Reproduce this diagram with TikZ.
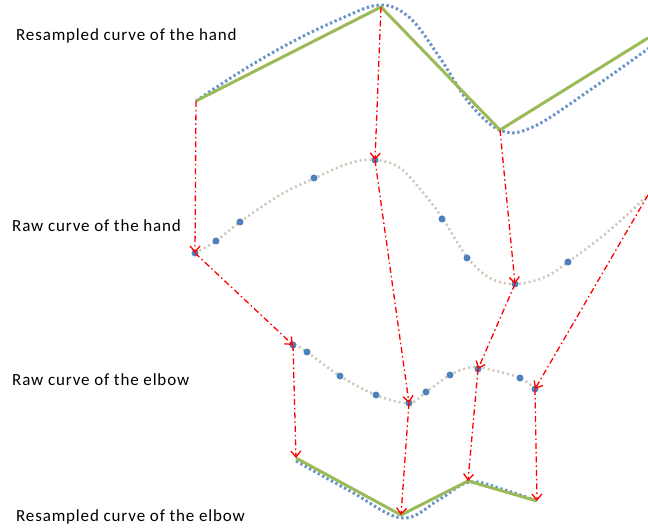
\documentclass[tikz,border=0pt]{standalone}
\usepackage{fontspec}
\setmainfont{Carlito}
\newfontfamily\lblfont[LetterSpace=5]{Carlito}
\usetikzlibrary{arrows.meta}
\definecolor{offgreen}{RGB}{155,187,89}
\definecolor{offblue}{RGB}{79,129,189}
\definecolor{greyline}{RGB}{205,200,185}
\tikzset{
  resamp/.style={draw=offgreen,line width=3pt},
  blued/.style={draw=offblue!85!white,line width=3pt,dash pattern=on 2.4pt off 2.6pt},
  greyd/.style={draw=greyline,line width=2.6pt,dash pattern=on 2pt off 3pt},
  pt/.style={circle,fill=offblue,inner sep=0pt,minimum size=7pt},
  maparrow/.style={draw=red,line width=1.3pt,dash pattern=on 6pt off 3pt on 1.5pt off 3pt,-{Straight Barb[length=6pt,width=10pt]}},
  lbl/.style={anchor=west,font=\lblfont\fontsize{17}{20}\selectfont,inner sep=0pt}
}
\begin{document}
\begin{tikzpicture}[x=1pt,y=-1pt]
\useasboundingbox (0,0) rectangle (648,529);
% labels
\node[lbl] (l1) at (16,36) {Resampled curve of the hand};
\node[lbl] (l2) at (12,226) {Raw curve of the hand};
\node[lbl] (l3) at (12,380) {Raw curve of the elbow};
\node[lbl] (l4) at (16,517) {Resampled curve of the elbow};
% resampled hand
\coordinate (h1) at (196,101);
\coordinate (h2) at (381,7);
\coordinate (h3) at (500,130);
\coordinate (h4) at (648,38);
\draw[blued] plot[smooth,tension=0.6] coordinates {(196,101) (240,72) (290,43) (340,19) (380,5) (410,18) (440,58) (470,104) (502,131) (535,126) (590,90) (652,46)};
\draw[resamp,line join=miter] (h1) -- (h2) -- (h3) -- (h4);
% raw hand
\draw[greyd] plot[smooth,tension=0.6] coordinates {(195,253) (216,241) (240,222) (280,195) (315,178) (350,163) (375,160) (400,168) (425,195) (443,219) (467,257) (490,278) (515,284) (545,277) (568,262) (610,230) (650,193)};
\node[pt] (r1) at (195,253) {};
\node[pt] (r2) at (216,241) {};
\node[pt] (r3) at (240,222) {};
\node[pt] (r4) at (314,178) {};
\node[pt] (r5) at (375,160) {};
\node[pt] (r6) at (442,219) {};
\node[pt] (r7) at (467,258) {};
\node[pt] (r8) at (515,284) {};
\node[pt] (r9) at (568,262) {};
\coordinate (rend) at (648,195);
% raw elbow
\draw[greyd] plot[smooth,tension=0.6] coordinates {(290,342) (307,352) (340,376) (376,395) (409,403) (426,392) (450,375) (472,367) (492,370) (520,378) (535,389)};
\node[pt] (e1) at (293,345) {};
\node[pt] (e2) at (307,352) {};
\node[pt] (e3) at (340,376) {};
\node[pt] (e4) at (376,395) {};
\node[pt] (e5) at (409,403) {};
\node[pt] (e6) at (426,392) {};
\node[pt] (e7) at (450,375) {};
\node[pt] (e8) at (478,369) {};
\node[pt] (e9) at (520,378) {};
\node[pt] (e10) at (535,389) {};
% resampled elbow
\coordinate (s1) at (296,458);
\coordinate (s2) at (401,515);
\coordinate (s3) at (468,481);
\coordinate (s4) at (537,501);
\draw[blued] plot[smooth,tension=0.6] coordinates {(296,461) (350,491) (402,518) (440,499) (470,482) (505,490) (537,501)};
\draw[resamp,line join=miter] (s1) -- (s2) -- (s3) -- (s4);
% arrows hand resampled -> raw
\draw[maparrow] (h1) -- (r1.center);
\draw[maparrow] (h2) -- (r5.center);
\draw[maparrow] (h3) -- (r8.center);
% raw hand -> raw elbow
\draw[maparrow] (r1.center) -- (e1.center);
\draw[maparrow] (r5.center) -- (e5.center);
\draw[maparrow] (r8.center) -- (e8.center);
\draw[maparrow] (rend) -- (e10.center);
% raw elbow -> resampled elbow
\draw[maparrow] (e1.center) -- (s1);
\draw[maparrow] (e5.center) -- (s2);
\draw[maparrow] (e8.center) -- (s3);
\draw[maparrow] (e10.center) -- (s4);
\end{tikzpicture}
\end{document}
